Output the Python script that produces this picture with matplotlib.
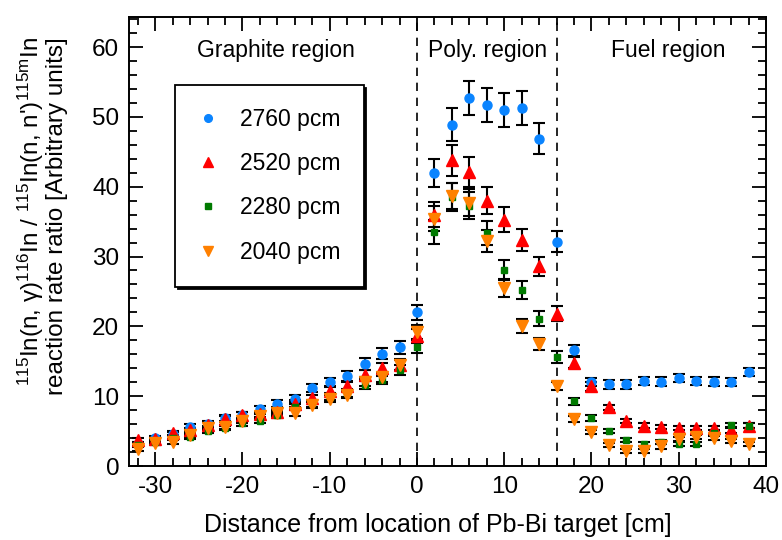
import numpy as np
import matplotlib
matplotlib.use('Agg')
import matplotlib.pyplot as plt
from matplotlib.ticker import MultipleLocator
from matplotlib.lines import Line2D

plt.rcParams['font.family'] = ['Liberation Sans', 'DejaVu Sans']
plt.rcParams['mathtext.fontset'] = 'custom'
plt.rcParams['mathtext.rm'] = 'Liberation Sans'
plt.rcParams['mathtext.it'] = 'Liberation Sans:italic'
plt.rcParams['axes.unicode_minus'] = False
plt.rcParams['font.size'] = 16

# distance [cm]
dist = [-32, -30, -28, -26, -24, -22, -20, -18, -16, -14, -12, -10, -8, -6, -4, -2, 0,
        2, 4, 6, 8, 10, 12, 14, 16,
        18, 20, 22, 24, 26, 28, 30, 32, 34, 36, 38]

r2760 = [3.2, 4.0, 4.6, 5.6, 6.0, 6.9, 7.3, 8.1, 8.9, 9.6, 11.2, 12.0, 12.9, 14.6, 16.1, 17.0, 22.0,
         42.0, 48.9, 52.7, 51.7, 51.0, 51.3, 46.9, 32.1,
         16.6, 12.0, 11.7, 11.7, 12.2, 12.1, 12.6, 12.2, 12.1, 12.0, 13.5]
e2760 = [0.3, 0.3, 0.3, 0.4, 0.4, 0.4, 0.4, 0.5, 0.5, 0.5, 0.6, 0.6, 0.7, 0.8, 0.8, 0.9, 1.1,
         2.0, 2.4, 2.5, 2.4, 2.4, 2.4, 2.2, 1.5,
         0.8, 0.6, 0.6, 0.6, 0.6, 0.6, 0.6, 0.6, 0.6, 0.6, 0.6]

r2520 = [3.7, 3.8, 4.7, 5.2, 5.9, 6.7, 7.3, 7.4, 7.8, 8.9, 9.7, 10.7, 11.4, 13.1, 14.0, 14.5, 18.6,
         36.0, 43.8, 42.1, 38.0, 35.3, 32.4, 28.6, 21.8,
         14.8, 11.4, 8.4, 6.4, 5.8, 5.6, 5.5, 5.5, 5.5, 5.1, 5.8]
e2520 = [0.3, 0.3, 0.3, 0.3, 0.4, 0.4, 0.4, 0.4, 0.4, 0.5, 0.5, 0.6, 0.6, 0.7, 0.7, 0.8, 1.0,
         1.8, 2.2, 2.1, 1.9, 1.8, 1.6, 1.4, 1.1,
         0.8, 0.6, 0.4, 0.3, 0.3, 0.3, 0.3, 0.3, 0.3, 0.3, 0.3]

r2280 = [3.0, 3.5, 4.0, 4.2, 5.0, 5.4, 6.1, 6.5, 7.3, 8.5, 9.0, 9.9, 10.5, 11.6, 12.3, 13.8, 17.1,
         33.5, 38.5, 37.3, 33.4, 28.1, 25.2, 21.1, 15.6,
         9.3, 6.9, 5.0, 3.7, 3.1, 3.4, 3.2, 3.2, 4.8, 5.9, 5.8]
e2280 = [0.3, 0.3, 0.3, 0.3, 0.3, 0.3, 0.3, 0.4, 0.4, 0.4, 0.5, 0.5, 0.6, 0.6, 0.6, 0.7, 0.9,
         1.7, 2.0, 1.9, 1.7, 1.4, 1.3, 1.1, 0.8,
         0.5, 0.4, 0.3, 0.3, 0.3, 0.3, 0.3, 0.3, 0.3, 0.3, 0.3]

r2040 = [2.5, 3.3, 3.5, 4.5, 5.4, 5.6, 6.4, 7.1, 7.6, 7.6, 8.8, 9.6, 10.2, 12.1, 12.7, 14.5, 19.2,
         35.4, 38.7, 37.7, 32.2, 25.5, 20.1, 17.5, 11.5,
         6.7, 4.9, 3.0, 2.2, 2.1, 2.8, 3.9, 4.2, 4.0, 3.6, 3.1]
e2040 = [0.3, 0.3, 0.3, 0.3, 0.3, 0.3, 0.3, 0.4, 0.4, 0.4, 0.5, 0.5, 0.5, 0.6, 0.6, 0.7, 1.0,
         1.8, 1.9, 1.9, 1.6, 1.3, 1.0, 0.9, 0.6,
         0.4, 0.3, 0.3, 0.3, 0.3, 0.3, 0.3, 0.3, 0.3, 0.3, 0.3]

labels = ['2760 pcm', '2520 pcm', '2280 pcm', '2040 pcm']
colors = ['#0a84ff', '#ff0000', '#007a00', '#ff8000']
markers = ['o', '^', 's', 'v']
msizes = [6.5, 8, 5, 8]

boundaries = [0, 16]
regions = ['Graphite region', 'Poly. region', 'Fuel region']
region_x = [-16.2, 8.1, 28.8]

fig = plt.figure(figsize=(7.82, 5.40), dpi=100)
ax = fig.add_axes([0.165, 0.137, 0.8145, 0.8315])

series = [(r2760, e2760), (r2520, e2520), (r2280, e2280), (r2040, e2040)]
handles = []
for (vals, errs), lab, c, m, ms in zip(series, labels, colors, markers, msizes):
    ax.errorbar(dist, vals, yerr=errs, fmt=m, color=c, ms=ms, mec=c,
                ecolor='black', elinewidth=1.5, capsize=4.5, capthick=1.5)
    handles.append(Line2D([], [], linestyle='none', marker=m, color=c, ms=ms * 0.85, label=lab))

for b in boundaries:
    ax.axvline(b, color='black', linestyle=(0, (5, 4)), linewidth=1.2, zorder=0)

for txt, xx in zip(regions, region_x):
    ax.text(xx, 59.5, txt, ha='center', va='center', fontsize=16.5)

ax.set_xlim(-33, 40)
ax.set_ylim(0, 64.3)
ax.xaxis.set_major_locator(MultipleLocator(10))
ax.xaxis.set_minor_locator(MultipleLocator(2))
ax.yaxis.set_major_locator(MultipleLocator(10))
ax.yaxis.set_minor_locator(MultipleLocator(2))
ax.tick_params(which='both', direction='in', top=True, right=True, width=1.3)
ax.tick_params(which='major', length=10, labelsize=17.5, pad=7)
ax.tick_params(which='minor', length=5.5)
for s in ax.spines.values():
    s.set_linewidth(1.4)

ax.set_xlabel('Distance from location of Pb-Bi target [cm]', fontsize=18)
ax.xaxis.set_label_coords(0.485, -0.105)
fig.text(0.054, 1 - 216 / 540,
         r'$\mathregular{^{115}}$In(n, γ)$\mathregular{^{116}}$In / '
         r"$\mathregular{^{115}}$In(n, n')$\mathregular{^{115m}}$In" + '\nreaction rate ratio [Arbitrary units]',
         rotation=90, ha='center', va='center', multialignment='right', fontsize=17.5, linespacing=1.0)

leg = ax.legend(handles=handles, loc='upper left', bbox_to_anchor=(0.072, 0.849), frameon=True,
                fancybox=False, edgecolor='black', fontsize=16.5, labelspacing=0.93, borderpad=1.0,
                handletextpad=0.95, handlelength=0.9, borderaxespad=0,
                shadow={'facecolor': 'black', 'edgecolor': 'black', 'alpha': 1})
leg.get_frame().set_linewidth(1.3)

fig.savefig('out.png', dpi=100)
